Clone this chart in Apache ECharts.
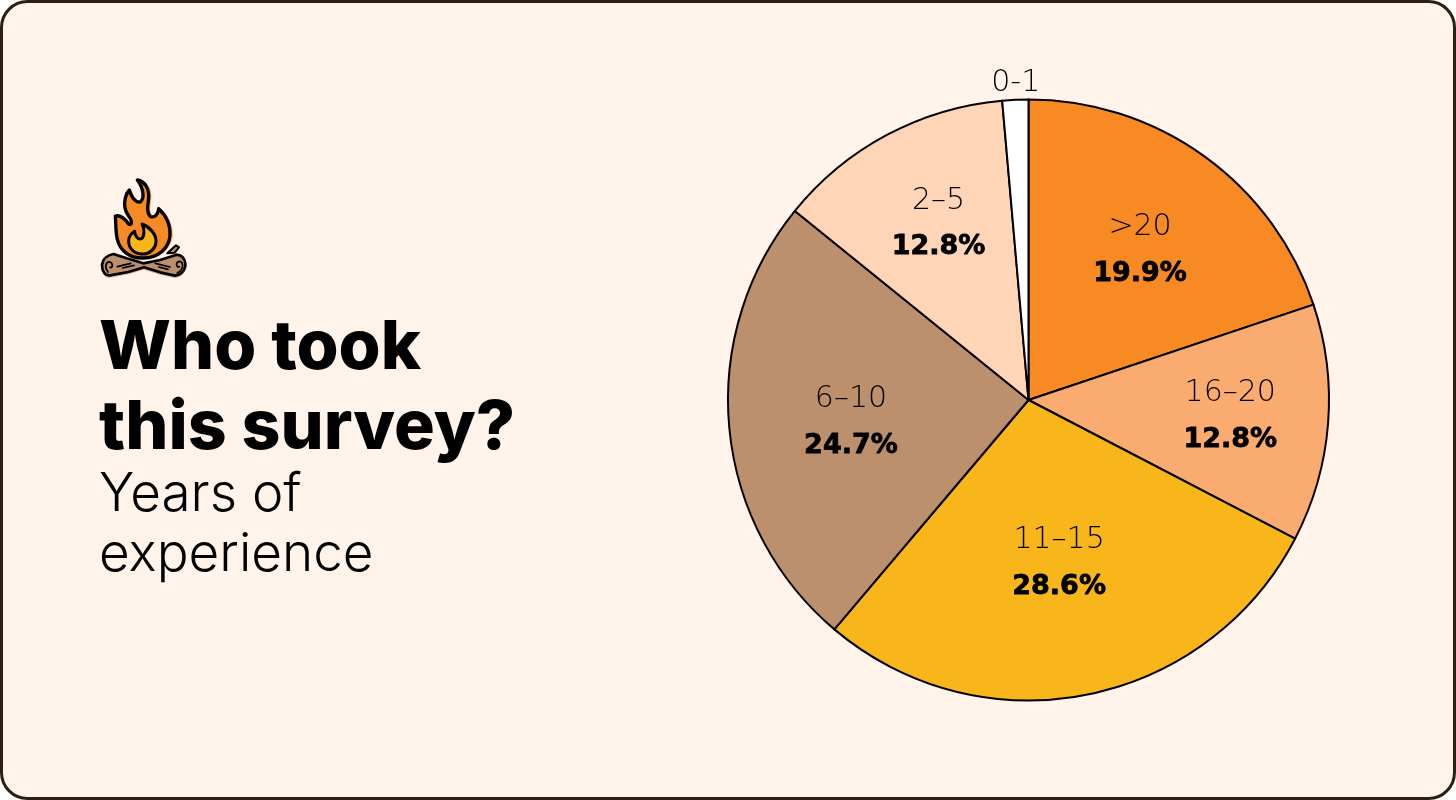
<!DOCTYPE html>
<html>
<head>
<meta charset="utf-8">
<title>Who took this survey?</title>
<script src="https://cdn.jsdelivr.net/npm/echarts@6/dist/echarts.min.js"></script>
<style>
html,body{margin:0;padding:0;background:#fff;}
#chart{width:1456px;height:800px;}
</style>
</head>
<body>
<div id="chart"></div>
<script>
// Survey results: share of respondents by years of experience
const categories = ['>20', '16–20', '11–15', '6–10', '2–5', '0-1'];
const shares = [19.9, 12.8, 28.6, 24.7, 12.8, 1.4];
const showShare = [true, true, true, true, true, false];
const sliceColors = ['#F78A22', '#FAAC70', '#F9B61A', '#BC8F6D', '#FFD5B8', '#FFFFFF'];
// Label nudges away from the default mid-radius anchor, in px
const labelNudgeX = [22, 49, 1, -25, -18, -6];
const labelNudgeY = [-24, 5, 14, 9, -40, -164];

const INK = '#000000';

// Campfire outlines, on a 390-unit square that is scaled down to 130px
const campfireShapes = {
  flame: 'M172 60 C196 64 208 88 206 114 C204 136 198 158 212 170 C226 174 234 162 236 146 C258 166 272 196 270 228 C266 264 236 294 190 294 C150 296 120 272 112 238 C106 214 108 188 106 168 C122 164 136 178 146 192 C158 198 156 180 146 168 C134 152 132 130 136 114 C138 104 142 96 148 90 C152 106 164 128 180 126 C194 118 192 86 172 60 Z',
  flameCore: 'M186 192 C212 202 230 226 228 246 C226 268 206 284 186 282 C164 282 146 266 146 244 C146 232 154 220 164 214 C164 228 174 240 184 236 C194 230 194 208 186 192 Z',
  logs: 'M100 282 C84 285 68 296 66 315 C66 335 75 348 90 346 L145 336 L192 322 L240 337 L285 347 C302 346 318 330 316 310 C314 295 305 286 290 284 L240 300 L190 310 L140 295 Z',
  logTwig: 'M262 280 L288 256 L297 262 L284 278 Z',
  logGrain: 'M112 320 L152 310 M128 324 L162 316 M226 310 L270 321 M236 321 L264 328',
  logRings: 'M84 336 C72 322 78 304 90 306 C100 310 98 326 90 322 M292 338 C312 330 312 304 298 304 C286 306 288 324 298 320'
};
Object.keys(campfireShapes).forEach(name => {
  echarts.graphic.registerShape(name, echarts.graphic.extendPath(campfireShapes[name], {}));
});

const outline = { stroke: '#000', lineJoin: 'round', lineCap: 'round' };
const campfire = {
  type: 'group', x: 80, y: 160, scaleX: 1 / 3, scaleY: 1 / 3, silent: true,
  children: [
    { type: 'flame', x: 8, y: 1, z: 1, style: { fill: '#FBB25F' } },
    { type: 'logs', y: 7, z: 1, style: { fill: '#DDB08C' } },
    { type: 'flame', z: 2, style: { fill: '#F78A22', lineWidth: 10, ...outline } },
    { type: 'flameCore', z: 3, style: { fill: '#F9B61A', lineWidth: 9, ...outline } },
    { type: 'logTwig', z: 4, style: { fill: '#BC8F6D', lineWidth: 6, ...outline } },
    { type: 'logs', z: 5, style: { fill: '#BC8F6D', lineWidth: 8, ...outline } },
    { type: 'logGrain', z: 6, style: { fill: null, lineWidth: 5, ...outline } },
    { type: 'logRings', z: 6, style: { fill: null, lineWidth: 5, ...outline } }
  ]
};

const chart = echarts.init(document.getElementById('chart'));
chart.setOption({
  animation: false,
  backgroundColor: 'transparent',
  title: {
    left: 94, top: 304,
    text: 'Who took\nthis survey?',
    textStyle: { fontFamily: 'Inter', fontWeight: 800, fontSize: 68, lineHeight: 80, color: INK },
    subtext: 'Years of\nexperience',
    itemGap: -4,
    subtextStyle: { fontFamily: 'Inter', fontWeight: 300, fontSize: 53, lineHeight: 60, color: INK }
  },
  graphic: [
    { type: 'rect', z: -10, silent: true,
      shape: { x: 1.5, y: 1.5, width: 1453, height: 797, r: 26 },
      style: { fill: '#FFF3EA', stroke: '#2A2018', lineWidth: 3 } },
    campfire
  ],
  series: [{
    type: 'pie',
    center: [1028.5, 400],
    radius: 300.5,
    startAngle: 90,
    clockwise: true,
    silent: true,
    avoidLabelOverlap: false,
    itemStyle: { borderColor: INK, borderWidth: 2 },
    label: {
      show: true,
      position: 'inside',
      color: INK,
      formatter: p => showShare[p.dataIndex]
        ? `{name|${p.name}}\n{share|${p.value.toFixed(1)}%}`
        : `{name|${p.name}}`,
      rich: {
        name: { fontFamily: 'DejaVu Sans', fontWeight: 200, fontSize: 30, lineHeight: 45, color: INK },
        share: { fontFamily: 'DejaVu Sans', fontWeight: 700, fontSize: 27, lineHeight: 48, color: INK, textBorderColor: INK, textBorderWidth: 0.8 }
      }
    },
    labelLine: { show: false },
    labelLayout: p => ({ dx: labelNudgeX[p.dataIndex], dy: labelNudgeY[p.dataIndex] }),
    data: categories.map((name, i) => ({ name, value: shares[i], itemStyle: { color: sliceColors[i] } }))
  }]
});
</script>
</body>
</html>
